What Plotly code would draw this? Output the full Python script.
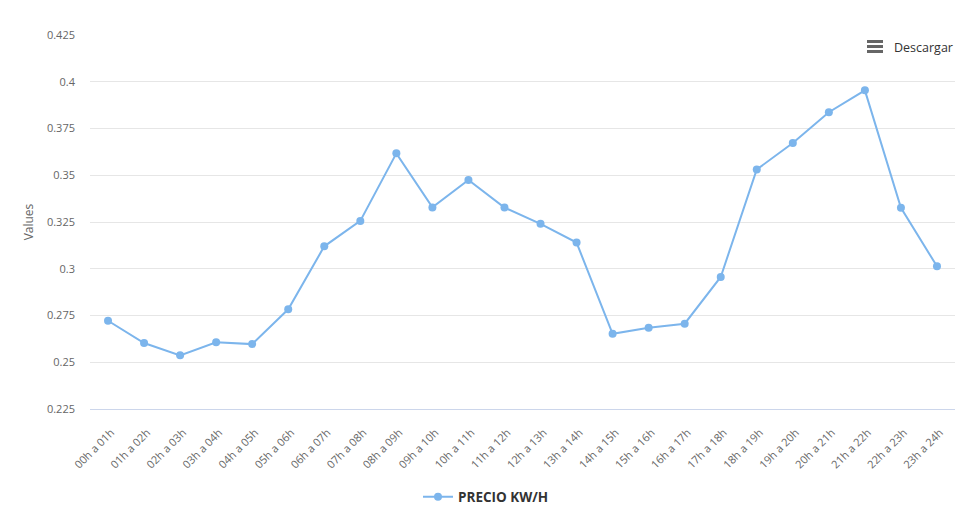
import plotly.graph_objects as go

categories = ["00h a 01h", "01h a 02h", "02h a 03h", "03h a 04h", "04h a 05h", "05h a 06h",
              "06h a 07h", "07h a 08h", "08h a 09h", "09h a 10h", "10h a 11h", "11h a 12h",
              "12h a 13h", "13h a 14h", "14h a 15h", "15h a 16h", "16h a 17h", "17h a 18h",
              "18h a 19h", "19h a 20h", "20h a 21h", "21h a 22h", "22h a 23h", "23h a 24h"]
precio = [0.2722, 0.2603, 0.2537, 0.2607, 0.2597, 0.2783, 0.3120, 0.3256, 0.3617, 0.3328,
          0.3475, 0.3327, 0.3240, 0.3140, 0.2652, 0.2684, 0.2706, 0.2956, 0.3531, 0.3672,
          0.3837, 0.3954, 0.3326, 0.3013]
y_tickvals = [0.225, 0.25, 0.275, 0.3, 0.325, 0.35, 0.375, 0.4, 0.425]
y_ticktext = ["0.225", "0.25", "0.275", "0.3", "0.325", "0.35", "0.375", "0.4", "0.425"]
series_name = "PRECIO KW/H"

W, H = 977, 517
ML, MR, MT, MB = 90, 22, 35, 108

fig = go.Figure()
fig.add_trace(go.Scatter(
    x=categories, y=precio, mode="lines+markers", name=series_name,
    line=dict(color="#7cb5ec", width=2),
    marker=dict(color="#7cb5ec", size=8),
    hoverinfo="x+y",
))

# hamburger icon for "Descargar" button (paper coords from pixels)
def px(x):
    return (x - ML) / (W - ML - MR)

def py(y):
    return (H - MB - y) / (H - MT - MB)

shapes = []
for yy in [41.5, 46.5, 51.5]:
    shapes.append(dict(type="line", xref="paper", yref="paper",
                       x0=px(867), x1=px(883), y0=py(yy), y1=py(yy),
                       line=dict(color="#666666", width=3)))

fig.update_layout(
    width=W, height=H,
    margin=dict(l=ML, r=MR, t=MT, b=MB, autoexpand=False),
    paper_bgcolor="white", plot_bgcolor="white",
    font=dict(family="Open Sans, sans-serif", size=11, color="#666666"),
    showlegend=True,
    legend=dict(orientation="h", xref="container", yref="container",
                x=486 / W, xanchor="center", y=(H - 497) / H, yanchor="middle",
                font=dict(size=13.5, color="#333333", family="Open Sans, sans-serif", weight="bold"),
                itemwidth=30),
    xaxis=dict(type="category", range=[-0.5, 23.5], showgrid=False, automargin=False,
               showline=True, linecolor="#ccd6eb", linewidth=1,
               tickangle=-45, ticks="", tickfont=dict(size=11, color="#666666"),
               ticklabelstandoff=12, ticklabelshift=3, fixedrange=True),
    yaxis=dict(range=[0.225, 0.425], tickvals=y_tickvals, ticktext=y_ticktext, automargin=False,
               showgrid=True, gridcolor="#e6e6e6", gridwidth=1, zeroline=False,
               showline=False, ticks="", ticklabelstandoff=14,
               tickfont=dict(size=11, color="#666666"),
               title=dict(text="Values", font=dict(size=12, color="#666666"), standoff=10),
               fixedrange=True),
    shapes=shapes,
    annotations=[dict(text="Descargar", xref="paper", yref="paper", x=px(892), y=py(47),
                      xanchor="left", yanchor="middle", showarrow=False,
                      font=dict(size=12.5, color="#333333", family="Open Sans, sans-serif"))],
)

fig.write_html("out.html", config={"displayModeBar": False})
